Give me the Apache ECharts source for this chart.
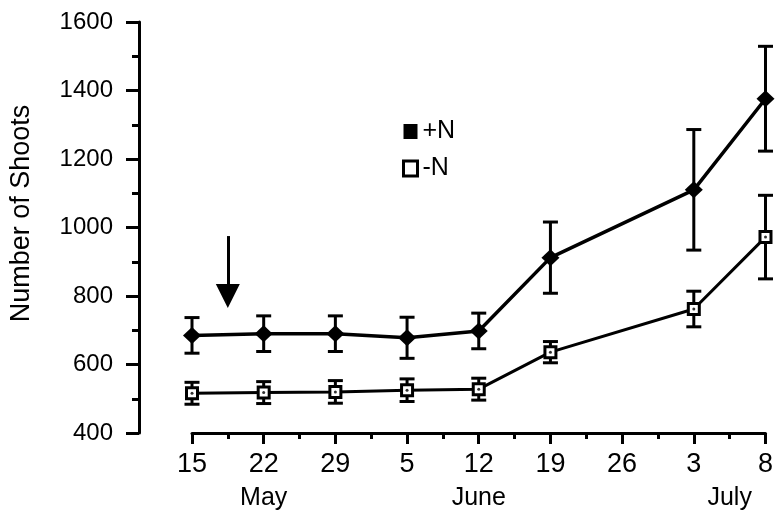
<!DOCTYPE html>
<html>
<head>
<meta charset="utf-8">
<script src="https://cdn.jsdelivr.net/npm/echarts@6/dist/echarts.min.js"></script>
<style>
  html, body { margin: 0; padding: 0; background: #fff; }
  #chart { width: 776px; height: 518px; }
</style>
</head>
<body>
<div id="chart"></div>
<script>
// x positions are week slots on the axis (15 May = 0 ... 8 July = 8)
var tickLabels = ['15', '22', '29', '5', '12', '19', '26', '3', '8'];
var monthLabels = { '1': 'May', '4': 'June', '7.5': 'July' };
var slots = [0, 1, 2, 3, 4, 5, 7, 8];

var plusN = [685, 690, 690, 678, 698, 912, 1110, 1376];
var plusErr = [52, 52, 52, 60, 52, 104, 176, 153];
var minusN = [516, 518, 520, 525, 528, 636, 762, 972];
var minusErr = [32, 32, 33, 33, 32, 31, 52, 122];

// arrow marking the N application (shaft top, head end)
var arrowX = 0.5, arrowTop = 975, arrowEnd = 800;

var FONT = '"Liberation Sans", Arial, Helvetica, sans-serif';

function pairs(ys) {
	var out = [];
	for (var i = 0; i < slots.length; i++) out.push([slots[i], ys[i]]);
	return out;
}
function bars(ys, err) {
	var out = [];
	for (var i = 0; i < slots.length; i++) out.push([slots[i], ys[i] - err[i], ys[i] + err[i]]);
	return out;
}

function errorBar(params, api) {
	var x = api.value(0);
	var lo = api.coord([x, api.value(1)]);
	var hi = api.coord([x, api.value(2)]);
	var half = 7.5;
	var st = { stroke: '#000', lineWidth: 3 };
	return {
		type: 'group',
		children: [
			{ type: 'line', shape: { x1: lo[0], y1: lo[1], x2: hi[0], y2: hi[1] }, style: st },
			{ type: 'line', shape: { x1: lo[0] - half, y1: lo[1], x2: lo[0] + half, y2: lo[1] }, style: st },
			{ type: 'line', shape: { x1: hi[0] - half, y1: hi[1], x2: hi[0] + half, y2: hi[1] }, style: st }
		]
	};
}

var chart = echarts.init(document.getElementById('chart'));
var option = {
	animation: false,
	backgroundColor: '#fff',
	textStyle: { fontFamily: FONT, color: '#000' },
	grid: { left: 190, right: 8, top: 22, bottom: 85 },
	legend: {
		orient: 'vertical',
		left: 397,
		top: 114,
		itemWidth: 14,
		itemHeight: 15,
		itemGap: 12,
		textStyle: { fontFamily: FONT, fontSize: 25, color: '#000', lineHeight: 25 },
		data: [
			{ name: '+N', icon: 'rect', itemStyle: { color: '#000', borderWidth: 0 } },
			{ name: '-N', icon: 'rect', itemStyle: { color: '#fff', borderColor: '#000', borderWidth: 3 } }
		]
	},
	xAxis: [
		{
			type: 'value',
			min: 0,
			max: 8,
			interval: 1,
			axisLine: { show: true, onZero: false, lineStyle: { color: '#000', width: 3 } },
			axisTick: { show: true, length: 11, lineStyle: { color: '#000', width: 3 } },
			minorTick: { show: true, splitNumber: 2, length: 6, lineStyle: { color: '#000', width: 3 } },
			splitLine: { show: false },
			axisLabel: {
				margin: 18,
				fontSize: 27,
				color: '#000',
				fontFamily: FONT,
				formatter: function (v) { return tickLabels[Math.round(v)]; }
			}
		},
		{
			type: 'value',
			position: 'bottom',
			min: 0,
			max: 8,
			interval: 0.5,
			axisLine: { show: false, onZero: false },
			axisTick: { show: false },
			splitLine: { show: false },
			axisLabel: {
				margin: 53,
				fontSize: 25,
				color: '#000',
				fontFamily: FONT,
				formatter: function (v) { return monthLabels[String(v)] || ''; }
			}
		}
	],
	yAxis: {
		type: 'value',
		min: 400,
		max: 1600,
		interval: 200,
		offset: 53,
		name: 'Number of Shoots',
		nameLocation: 'middle',
		nameRotate: 90,
		nameGap: 104,
		nameTextStyle: { fontSize: 27, color: '#000', fontFamily: FONT, padding: [0, 0, 0, 28] },
		axisLine: { show: true, onZero: false, lineStyle: { color: '#000', width: 3 } },
		axisTick: { show: true, length: 13, lineStyle: { color: '#000', width: 3 } },
		minorTick: { show: true, splitNumber: 2, length: 7, lineStyle: { color: '#000', width: 3 } },
		splitLine: { show: false },
		axisLabel: {
			margin: 26,
			fontSize: 24,
			color: '#000',
			fontFamily: FONT,
			formatter: function (v) { return String(v); }
		}
	},
	series: [
		{
			name: 'errPlus',
			type: 'custom',
			renderItem: errorBar,
			data: bars(plusN, plusErr),
			clip: false,
			silent: true,
			z: 2
		},
		{
			name: 'errMinus',
			type: 'custom',
			renderItem: errorBar,
			data: bars(minusN, minusErr),
			clip: false,
			silent: true,
			z: 2
		},
		{
			name: '+N',
			type: 'line',
			data: pairs(plusN),
			symbol: 'diamond',
			symbolSize: [18, 17],
			lineStyle: { color: '#000', width: 3.5 },
			itemStyle: { color: '#000' },
			clip: false,
			z: 3,
			markLine: {
				silent: true,
				symbol: ['none', 'triangle'],
				symbolSize: [24, 24],
				label: { show: false },
				lineStyle: { color: '#000', width: 3, type: 'solid' },
				data: [[{ coord: [arrowX, arrowTop] }, { coord: [arrowX, arrowEnd] }]]
			}
		},
		{
			name: '-N',
			type: 'line',
			data: pairs(minusN),
			symbol: 'rect',
			symbolSize: 11,
			lineStyle: { color: '#000', width: 3 },
			itemStyle: { color: '#fff', borderColor: '#000', borderWidth: 3 },
			clip: false,
			z: 3
		},
		{
			name: 'dots',
			type: 'scatter',
			data: pairs(minusN),
			symbol: 'circle',
			symbolSize: 3,
			itemStyle: { color: '#000' },
			silent: true,
			z: 4
		}
	]
};
chart.setOption(option);
</script>
</body>
</html>
